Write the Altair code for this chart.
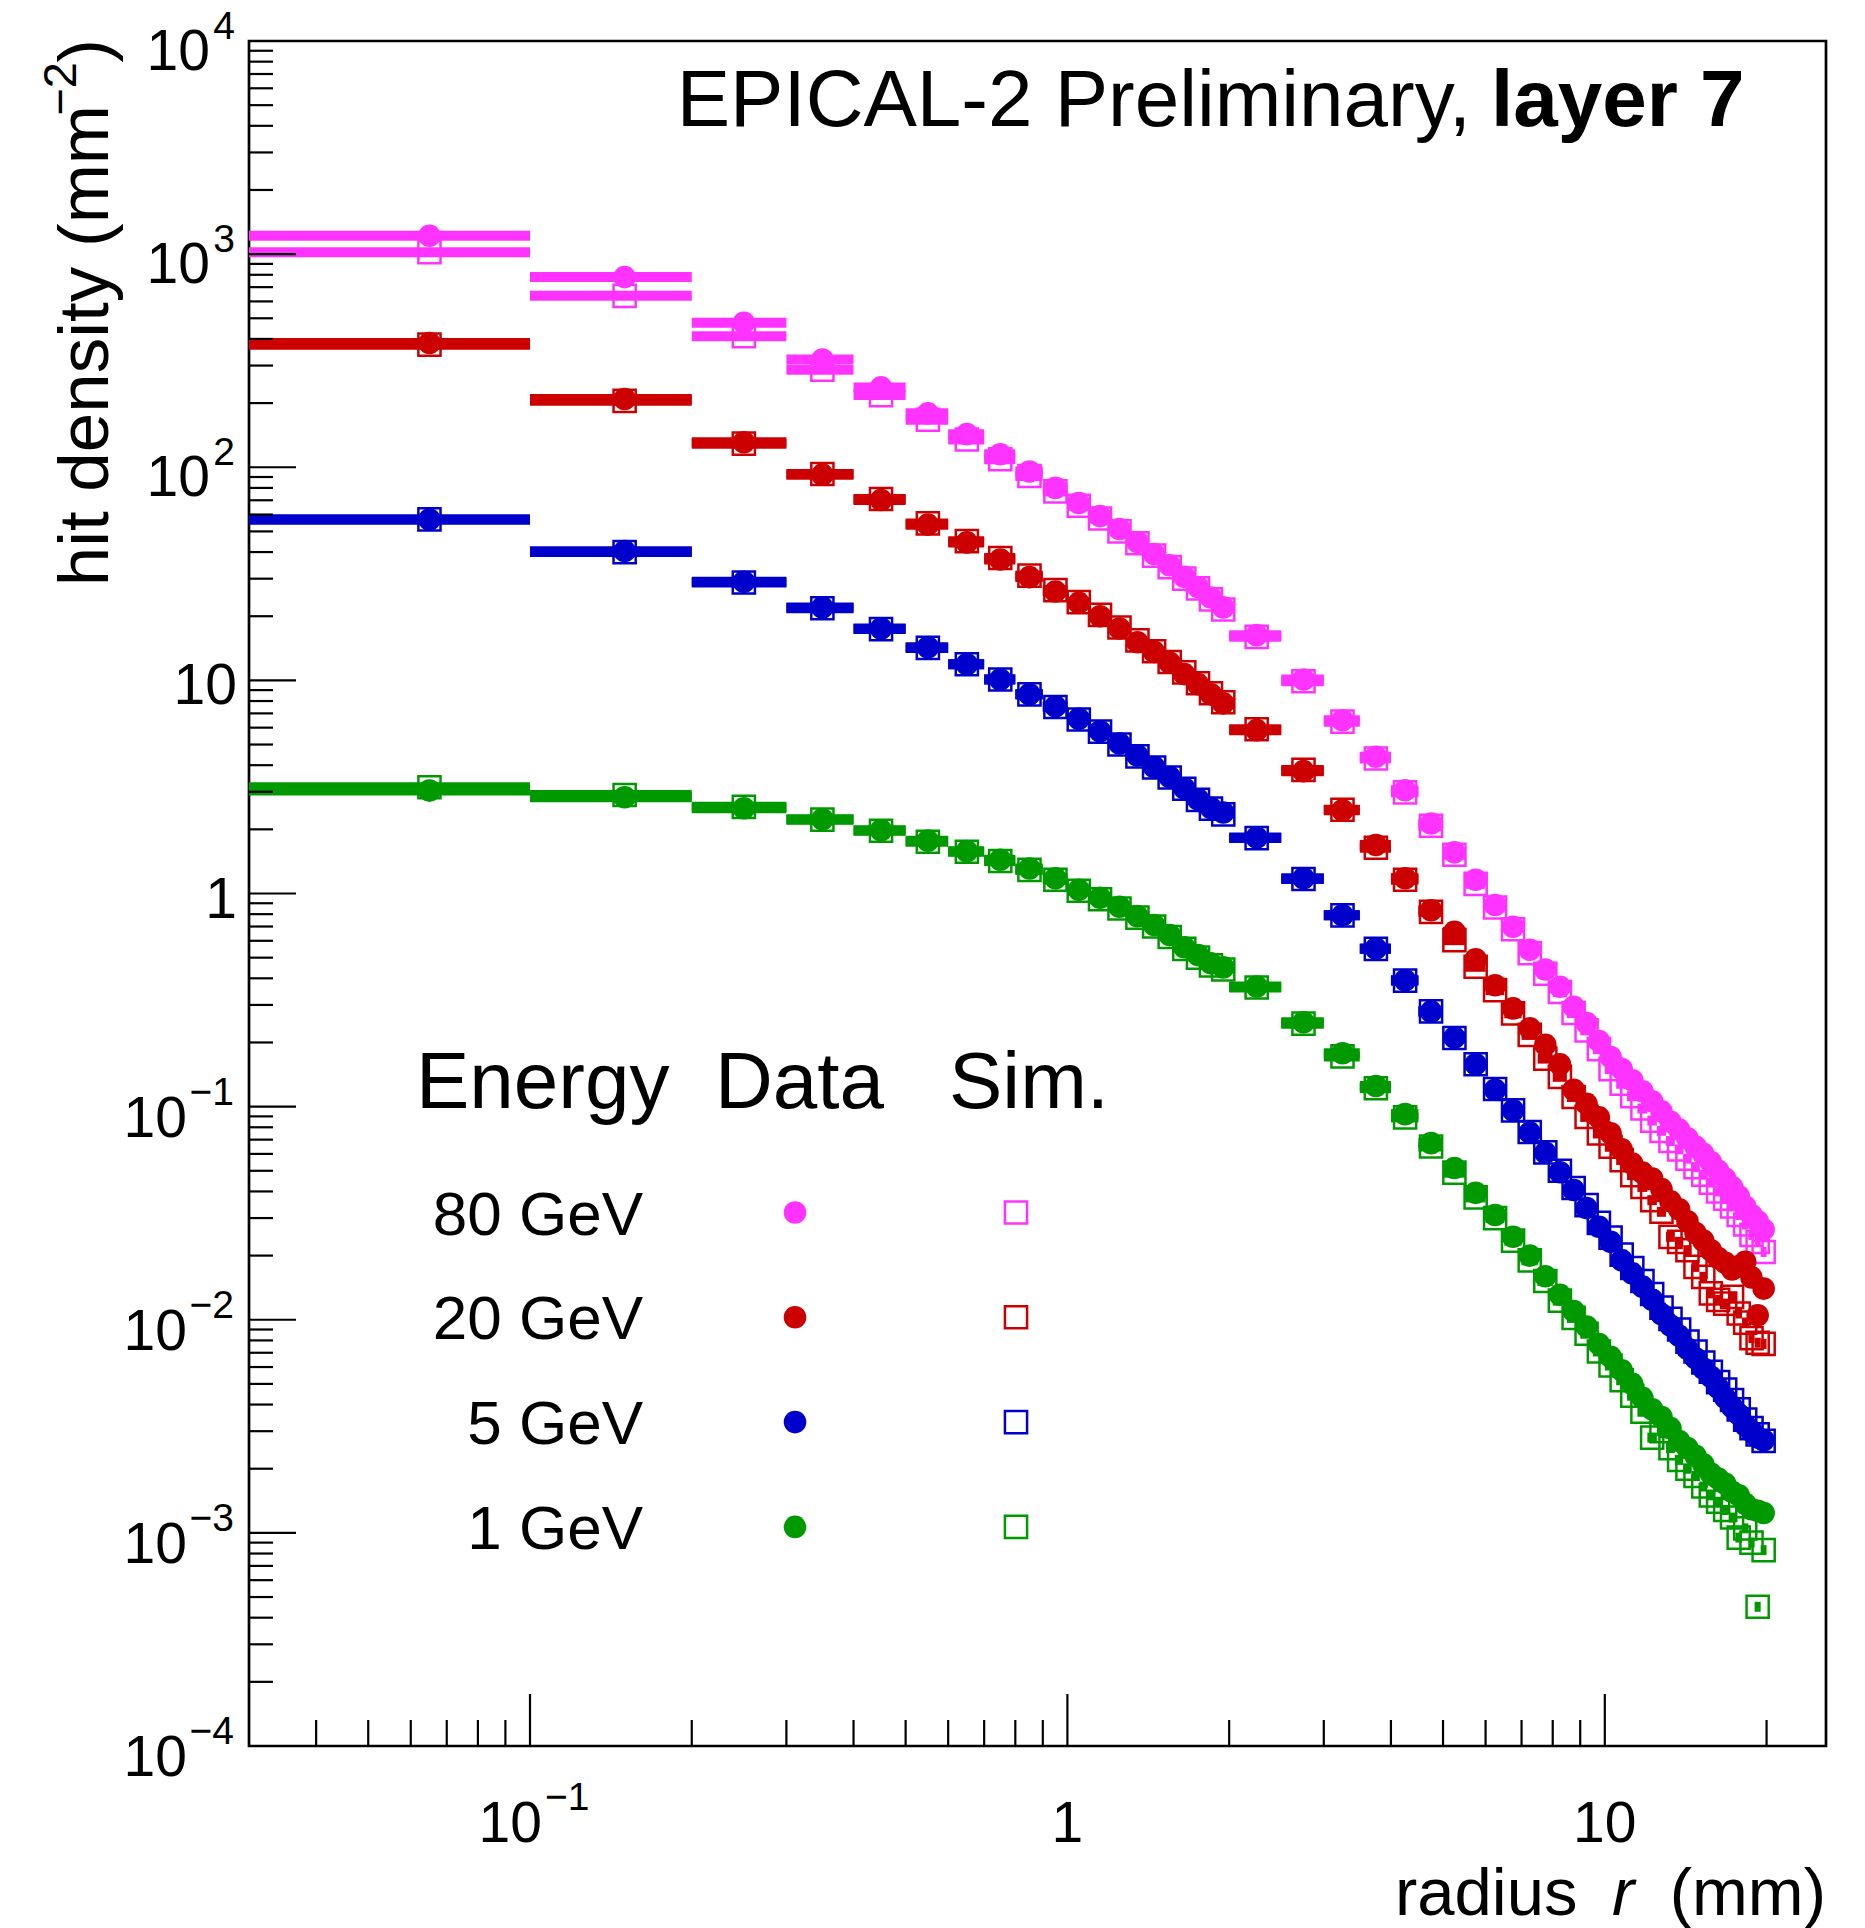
import altair as alt
import pandas as pd

FONT = "Liberation Sans"

# ---- radial bins (mm) --------------------------------------------------
bin_lo = [0.03, 0.1, 0.2, 0.3, 0.4, 0.5, 0.6, 0.7, 0.8, 0.9,
          1.0, 1.1, 1.2, 1.3, 1.4, 1.5, 1.6, 1.7, 1.8, 1.9,
          2.0, 2.5, 3.0, 3.5, 4.0, 4.5, 5.0, 5.5, 6.0, 6.5,
          7.0, 7.5, 8.0, 8.5, 9.0, 9.5, 10.0, 10.5, 11.0, 11.5,
          12.0, 12.5, 13.0, 13.5, 14.0, 14.5, 15.0, 15.5, 16.0, 16.5,
          17.0, 17.5, 18.0, 18.5, 19.0, 19.5]
bin_hi = bin_lo[1:] + [20.0]

energies = ["80 GeV", "20 GeV", "5 GeV", "1 GeV"]
colors = ["#ff33ff", "#cc0000", "#0000cc", "#009900"]

# ---- hit density (mm^-2), measured data ----------------------------------
data_80 = [1220, 780, 476, 320, 237, 179, 143, 115, 95.5, 80,
           68, 59, 51.3, 44.6, 39.2, 34.7, 30.6, 27.4, 24.5, 22.0,
           16.3, 10.1, 6.5, 4.38, 3.05, 2.13, 1.56, 1.16, 0.883, 0.698,
           0.545, 0.440, 0.365, 0.294, 0.247, 0.203, 0.171, 0.150, 0.133, 0.118,
           0.106, 0.095, 0.085, 0.078, 0.071, 0.065, 0.060, 0.055, 0.050, 0.046,
           0.042, 0.038, 0.034, 0.031, 0.029, 0.0265]
data_20 = [383, 209, 131, 92.3, 70.2, 53.8, 44.4, 36.9, 30.5, 26.1,
           23.1, 20.0, 17.5, 15.1, 13.6, 12.1, 10.7, 9.6, 8.6, 7.8,
           5.84, 3.75, 2.46, 1.69, 1.18, 0.835, 0.661, 0.491, 0.371, 0.289,
           0.233, 0.195, 0.158, 0.120, 0.103, 0.089, 0.075, 0.063, 0.054, 0.049,
           0.046, 0.041, 0.036, 0.033, 0.029, 0.0255, 0.0235, 0.0212, 0.0195, 0.0185,
           0.0172, 0.0178, 0.0187, 0.0158, 0.0105, 0.0140]
data_5 = [56.9, 40.4, 29.0, 22.0, 17.5, 14.3, 11.9, 10.1, 8.6, 7.55,
          6.6, 5.77, 5.06, 4.44, 3.92, 3.52, 3.12, 2.77, 2.52, 2.40,
          1.83, 1.18, 0.791, 0.552, 0.392, 0.279, 0.211, 0.158, 0.120, 0.096,
          0.0755, 0.0607, 0.0492, 0.0406, 0.0334, 0.0273, 0.0232, 0.0190, 0.0165, 0.0143,
          0.0124, 0.0106, 0.0094, 0.0084, 0.0073, 0.0066, 0.0059, 0.0054, 0.0048, 0.0043,
          0.0039, 0.0036, 0.0032, 0.0030, 0.0028, 0.00272]
data_1 = [3.04, 2.83, 2.51, 2.23, 1.98, 1.77, 1.58, 1.44, 1.31, 1.18,
          1.04, 0.955, 0.867, 0.783, 0.711, 0.638, 0.56, 0.514, 0.470, 0.45,
          0.366, 0.249, 0.178, 0.125, 0.0922, 0.0674, 0.0515, 0.0394, 0.0310, 0.0245,
          0.0200, 0.0160, 0.0131, 0.0110, 0.0093, 0.0077, 0.0067, 0.0058, 0.0050, 0.0043,
          0.0038, 0.0035, 0.0031, 0.0027, 0.0025, 0.0023, 0.0021, 0.0019, 0.0018, 0.0017,
          0.00156, 0.00150, 0.00137, 0.00129, 0.00127, 0.00124]

# ---- hit density (mm^-2), simulation --------------------------------------
sim_80 = [1020, 637, 412, 287, 218, 167, 135, 109, 91, 77,
          66, 57.5, 50, 44, 38.5, 34, 30, 27, 24, 21.5,
          16.0, 9.9, 6.4, 4.3, 2.98, 2.08, 1.52, 1.11, 0.86, 0.68,
          0.525, 0.42, 0.345, 0.275, 0.228, 0.186, 0.150, 0.128, 0.112, 0.098,
          0.086, 0.077, 0.069, 0.063, 0.057, 0.052, 0.048, 0.044, 0.040, 0.037,
          0.034, 0.031, 0.028, 0.025, 0.0232, 0.0208]
sim_20 = [376, 205, 129, 93, 71, 54.5, 45, 37.5, 31, 26.5,
          23.3, 20.3, 17.7, 15.4, 13.7, 12.2, 10.9, 9.7, 8.7, 7.9,
          5.9, 3.8, 2.47, 1.64, 1.16, 0.82, 0.604, 0.453, 0.352, 0.274,
          0.217, 0.168, 0.138, 0.111, 0.0895, 0.0748, 0.0648, 0.0561, 0.0477, 0.0420,
          0.0364, 0.0321, 0.0245, 0.0232, 0.0212, 0.0177, 0.0159, 0.0133, 0.0124, 0.0119,
          0.0128, 0.0107, 0.0097, 0.0082, 0.0078, 0.0077]
sim_5 = [56.9, 40.0, 28.8, 21.8, 17.4, 14.2, 11.9, 10.1, 8.6, 7.5,
         6.55, 5.75, 5.0, 4.4, 3.9, 3.5, 3.1, 2.75, 2.5, 2.35,
         1.82, 1.17, 0.79, 0.55, 0.39, 0.28, 0.21, 0.158, 0.121, 0.096,
         0.076, 0.061, 0.050, 0.0415, 0.0345, 0.0285, 0.0243, 0.0202, 0.0175, 0.0152,
         0.0132, 0.0114, 0.0101, 0.0090, 0.0079, 0.0071, 0.0063, 0.0057, 0.0051, 0.0047,
         0.0042, 0.0038, 0.0034, 0.0031, 0.0029, 0.0027]
sim_1 = [3.15, 2.9, 2.55, 2.22, 1.97, 1.75, 1.57, 1.42, 1.29, 1.16,
         1.03, 0.94, 0.85, 0.77, 0.70, 0.625, 0.55, 0.50, 0.46, 0.44,
         0.362, 0.245, 0.172, 0.122, 0.089, 0.065, 0.049, 0.0375, 0.0300, 0.0235,
         0.0190, 0.0152, 0.0123, 0.0102, 0.0086, 0.0071, 0.0061, 0.0052, 0.0044, 0.0037,
         0.0028, 0.0030, 0.0025, 0.0022, 0.0020, 0.00185, 0.00165, 0.0015, 0.0014, 0.00128,
         0.00118, 0.00095, 0.00105, 0.00090, 0.00045, 0.00083]

measured = [data_80, data_20, data_5, data_1]
simulated = [sim_80, sim_20, sim_5, sim_1]

# ---- axis tick positions and labels ---------------------------------------
y_major = [1e-4, 1e-3, 1e-2, 1e-1, 1, 10, 100, 1000, 10000]
y_minor = [k * 10.0 ** e for e in range(-4, 4) for k in range(2, 10)]
x_major = [0.1, 1, 10]
x_minor = [0.04, 0.05, 0.06, 0.07, 0.08, 0.09,
           0.2, 0.3, 0.4, 0.5, 0.6, 0.7, 0.8, 0.9,
           2, 3, 4, 5, 6, 7, 8, 9, 20]
y_pos_exp_vals = [100, 1000, 10000]
y_pos_exp_text = ["2", "3", "4"]
y_neg_exp_vals = [1e-4, 1e-3, 1e-2, 1e-1]
y_neg_exp_text = ["\u22124", "\u22123", "\u22122", "\u22121"]
y_plain_vals = [1, 10]
y_plain_text = ["1", "10"]
x_plain_vals = [1, 10]
x_plain_text = ["1", "10"]

# ---- long table -----------------------------------------------------------
rows = []
for e, dvals, svals in zip(energies, measured, simulated):
    for lo, hi, dv, sv in zip(bin_lo, bin_hi, dvals, svals):
        r = (lo + hi) / 2
        rows.append({"energy": e, "kind": "Sim.", "r": r, "lo": lo, "hi": hi, "val": sv})
        rows.append({"energy": e, "kind": "Data", "r": r, "lo": lo, "hi": hi, "val": dv})
df = pd.DataFrame(rows)

W, H = 1577, 1705
xs = alt.Scale(type="log", domain=[0.03, 25.8], nice=False)
ys = alt.Scale(type="log", domain=[1e-4, 1e4], nice=False)
cs = alt.Scale(domain=energies, range=colors)

X = lambda f: alt.X(f, scale=xs, axis=None)
Y = lambda f: alt.Y(f, scale=ys, axis=None)
C = alt.Color("energy:N", scale=cs, legend=None)

CIRCLE = 510
SQUARE = 490

base = alt.Chart(df)
sim = base.transform_filter(alt.datum.kind == "Sim.")
dat = base.transform_filter(alt.datum.kind == "Data")

sim_bars = sim.mark_rule(strokeWidth=10).encode(x=X("lo:Q"), x2="hi:Q", y=Y("val:Q"), color=C)
sim_pts = sim.mark_point(shape="square", filled=False, size=SQUARE, strokeWidth=2.5, opacity=1).encode(
    x=X("r:Q"), y=Y("val:Q"), color=C)
dat_bars = dat.mark_rule(strokeWidth=10).encode(x=X("lo:Q"), x2="hi:Q", y=Y("val:Q"), color=C)
dat_pts = dat.mark_point(shape="circle", filled=True, size=CIRCLE, opacity=1).encode(
    x=X("r:Q"), y=Y("val:Q"), color=C)

# ---- inward ticks ---------------------------------------------------------
def yticks(vals, length):
    return alt.Chart(pd.DataFrame({"v": vals})).mark_rule(color="black", strokeWidth=2.2).encode(
        y=Y("v:Q"), x=alt.value(0), x2=alt.value(length))

def xticks(vals, length):
    return alt.Chart(pd.DataFrame({"t": vals})).mark_rule(color="black", strokeWidth=2.2).encode(
        x=X("t:Q"), y=alt.value(H), y2=alt.value(H - length))

# ---- tick labels ----------------------------------------------------------
def ylabels(vals, texts, xpx, dy, size):
    return alt.Chart(pd.DataFrame({"v": vals, "s": texts})).mark_text(
        align="right", baseline="alphabetic", dy=dy, fontSize=size, font=FONT, color="black").encode(
        y=Y("v:Q"), x=alt.value(xpx), text="s:N")

y_lab = [
    ylabels(y_pos_exp_vals, ["10"] * 3, -39, 29, 57),
    ylabels(y_pos_exp_vals, y_pos_exp_text, -14, -2, 39),
    ylabels(y_neg_exp_vals, ["10"] * 4, -62, 30, 57),
    ylabels(y_neg_exp_vals, y_neg_exp_text, -15, -2, 39),
    ylabels(y_plain_vals, y_plain_text, -12, 24, 57),
]

x_lab = [
    alt.Chart(pd.DataFrame({"t": [0.1], "s": ["10"]})).mark_text(
        align="right", baseline="alphabetic", dx=12, fontSize=57, font=FONT, color="black").encode(
        x=X("t:Q"), y=alt.value(H + 96), text="s:N"),
    alt.Chart(pd.DataFrame({"t": [0.1], "s": ["\u22121"]})).mark_text(
        align="left", baseline="alphabetic", dx=15, fontSize=39, font=FONT, color="black").encode(
        x=X("t:Q"), y=alt.value(H + 64), text="s:N"),
    alt.Chart(pd.DataFrame({"t": x_plain_vals, "s": x_plain_text})).mark_text(
        align="center", baseline="alphabetic", fontSize=57, font=FONT, color="black").encode(
        x=X("t:Q"), y=alt.value(H + 96), text="s:N"),
]

# ---- free text ------------------------------------------------------------
def label(text, x, y, size, align="left", weight="normal", style="normal", angle=0, color="black"):
    return alt.Chart(pd.DataFrame({"s": [text]})).mark_text(
        align=align, baseline="alphabetic", fontSize=size, font=FONT, fontWeight=weight,
        fontStyle=style, angle=angle, color=color).encode(
        x=alt.value(x), y=alt.value(y), text="s:N")

texts = [
    # headline
    label("EPICAL-2 Preliminary,", 1222, 85, 80, align="right"),
    label("layer 7", 1242, 85, 80, align="left", weight="bold"),
    # x-axis title
    label("radius", 1146, 1874, 67),
    label("r", 1363, 1874, 67, style="italic"),
    label("(mm)", W, 1874, 67, align="right"),
    # y-axis title
    label(")", -141, -2, 71, align="right", angle=270),
    label("\u22122", -173, 21, 47, align="right", angle=270),
    label("hit density (mm", -141, 64, 71, align="right", angle=270),
    # legend header
    label("Energy", 167, 1067, 80),
    label("Data", 466, 1067, 80),
    label("Sim.", 700, 1067, 80),
]

legend = []
for i, (e, col) in enumerate(zip(energies, colors)):
    yb = 1193.5 + 104.8 * i
    legend.append(label(e, 394, yb, 62, align="right"))
    one = alt.Chart(pd.DataFrame({"e": [e]}))
    legend.append(one.mark_point(shape="circle", filled=True, size=CIRCLE, opacity=1, color=col).encode(
        x=alt.value(546), y=alt.value(yb - 22)))
    legend.append(one.mark_point(shape="square", filled=False, size=SQUARE, strokeWidth=2.5, opacity=1,
                                 color=col).encode(x=alt.value(767), y=alt.value(yb - 22)))

chart = alt.layer(
    sim_bars, sim_pts, dat_bars, dat_pts,
    yticks(y_major, 47), yticks(y_minor, 24), xticks(x_major, 52), xticks(x_minor, 26),
    *y_lab, *x_lab, *texts, *legend,
).properties(
    width=W, height=H,
    padding={"left": 249, "top": 41, "right": 39, "bottom": 182},
    autosize=alt.AutoSizeParams(type="none"),
    background="white",
).configure_view(stroke="black", strokeWidth=2.7)

chart.save("out.html", embed_options={"renderer": "svg", "actions": False})
